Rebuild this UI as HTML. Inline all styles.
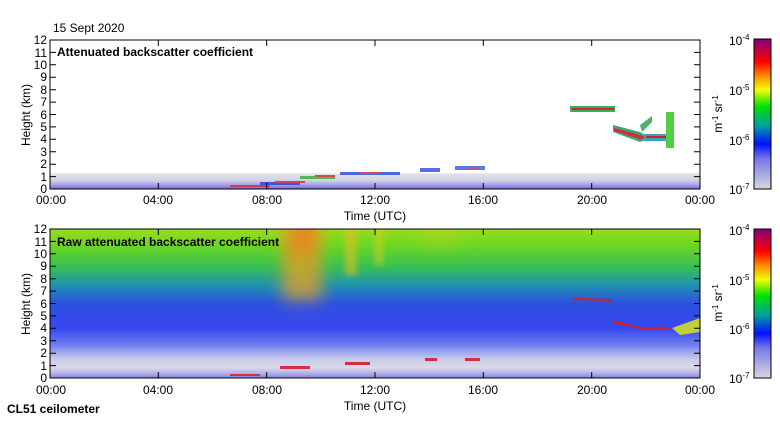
<!DOCTYPE html>
<html><head><meta charset="utf-8"><style>
body{margin:0;background:#fff}
svg text{font-family:"Liberation Sans",sans-serif;font-size:12px;fill:#000}
</style></head><body>
<svg width="780" height="420" xmlns="http://www.w3.org/2000/svg">
<defs>
<linearGradient id="cb" x1="0" y1="1" x2="0" y2="0">
<stop offset="0" stop-color="#d8d8e0"/><stop offset="0.2" stop-color="#7878e8"/><stop offset="0.3" stop-color="#0010ff"/><stop offset="0.42" stop-color="#00a0a0"/><stop offset="0.55" stop-color="#00e000"/><stop offset="0.66" stop-color="#f0ff00"/><stop offset="0.75" stop-color="#ff9000"/><stop offset="0.85" stop-color="#ff0000"/><stop offset="1" stop-color="#800080"/>
</linearGradient>
<linearGradient id="top" x1="0" y1="1" x2="0" y2="0">
<stop offset="0" stop-color="#6a6ae0"/><stop offset="0.03" stop-color="#a8a8e8"/><stop offset="0.06" stop-color="#d4d4e4"/><stop offset="0.1" stop-color="#e0e0ec"/><stop offset="0.11" stop-color="#fff"/>
</linearGradient>
<linearGradient id="bot" x1="0" y1="1" x2="0" y2="0">
<stop offset="0" stop-color="#8080e0"/><stop offset="0.03" stop-color="#b0b0e8"/><stop offset="0.07" stop-color="#dadae8"/><stop offset="0.13" stop-color="#c8c8ec"/><stop offset="0.22" stop-color="#7080f0"/><stop offset="0.33" stop-color="#3848f0"/><stop offset="0.5" stop-color="#2c50e0"/><stop offset="0.62" stop-color="#2090b0"/><stop offset="0.75" stop-color="#38c050"/><stop offset="0.9" stop-color="#70d820"/><stop offset="1" stop-color="#98dc20"/>
</linearGradient>
<filter id="b" x="-50%" y="-50%" width="200%" height="200%"><feGaussianBlur stdDeviation="8"/></filter>
<filter id="b2" x="-50%" y="-50%" width="200%" height="200%"><feGaussianBlur stdDeviation="3"/></filter>
<clipPath id="cp"><rect x="50" y="229" width="650" height="149"/></clipPath>
</defs>
<text x="53" y="32">15 Sept 2020</text>
<!-- top panel -->
<rect x="50" y="40" width="650" height="149" fill="url(#top)"/>
<g>
<rect x="570" y="106" width="45" height="6" fill="#30b060"/><rect x="572" y="108" width="42" height="2" fill="#e02020"/>
<polygon points="613,125 640,132 650,138 640,142 613,132" fill="#40a080"/>
<polygon points="614,128 640,135 648,138 640,139 614,131" fill="#d03030"/>
<polygon points="640,125 652,116 652,122 642,132" fill="#50b070"/>
<rect x="644" y="134" width="28" height="7" fill="#40a0c0"/><rect x="646" y="136" width="24" height="2" fill="#d02020"/>
<rect x="666" y="112" width="8" height="36" fill="#50d040"/>
</g>
<g fill="#d03040" opacity="0.85">
<rect x="230" y="185" width="40" height="2"/><rect x="260" y="182" width="40" height="3" fill="#3040e0"/><rect x="275" y="181" width="30" height="2"/><rect x="300" y="176" width="35" height="3" fill="#40b040"/><rect x="315" y="175" width="20" height="2"/><rect x="340" y="172" width="60" height="3" fill="#3050e0"/><rect x="360" y="172" width="20" height="2"/><rect x="420" y="168" width="20" height="4" fill="#4050e0"/><rect x="455" y="166" width="30" height="4" fill="#4060e0"/><rect x="470" y="167" width="8" height="2"/>
</g>
<rect x="50" y="40" width="650" height="149" fill="none" stroke="#000"/>
<text x="57" y="56" style="font-weight:bold">Attenuated backscatter coefficient</text>
<!-- bottom panel -->
<rect x="50" y="229" width="650" height="149" fill="url(#bot)"/>
<g clip-path="url(#cp)">
<rect x="282" y="215" width="40" height="85" fill="#e8a020" opacity="0.75" filter="url(#b)"/>
<rect x="290" y="215" width="25" height="40" fill="#f07020" opacity="0.6" filter="url(#b)"/>
<rect x="345" y="215" width="12" height="60" fill="#e0c020" opacity="0.6" filter="url(#b2)"/>
<rect x="375" y="215" width="8" height="50" fill="#d0d020" opacity="0.6" filter="url(#b2)"/>
<rect x="420" y="215" width="40" height="30" fill="#c0d020" opacity="0.4" filter="url(#b)"/>
<polygon points="672,328 700,318 700,332 680,335" fill="#d0e020" opacity="0.9"/>
</g>
<polygon points="573,298 612,299 612,301 573,300" fill="#d02020"/>
<polygon points="613,320 640,327 670,328 670,330 640,329 613,323" fill="#d02020"/>
<g fill="#d03040"><rect x="230" y="374" width="30" height="2"/><rect x="280" y="366" width="30" height="3"/><rect x="345" y="362" width="25" height="3"/><rect x="425" y="358" width="12" height="3"/><rect x="465" y="358" width="15" height="3"/></g>
<rect x="50" y="229" width="650" height="149" fill="none" stroke="#000"/>
<text x="57" y="246" style="font-weight:bold" fill="#102010">Raw attenuated backscatter coefficient</text>
<!-- axes ticks -->
<g stroke="#000" stroke-width="1">
<path d="M158.3,40v6M266.7,40v6M375,40v6M483.3,40v6M591.7,40v6M158.3,189v-6M266.7,189v-6M375,189v-6M483.3,189v-6M591.7,189v-6"/>
<path d="M158.3,229v6M266.7,229v6M375,229v6M483.3,229v6M591.7,229v6M158.3,378v-6M266.7,378v-6M375,378v-6M483.3,378v-6M591.7,378v-6"/>
<path d="M50,176.6h6M50,164.2h6M50,151.8h6M50,139.3h6M50,126.9h6M50,114.5h6M50,102.1h6M50,89.7h6M50,77.2h6M50,64.8h6M50,52.4h6M700,176.6h-6M700,164.2h-6M700,151.8h-6M700,139.3h-6M700,126.9h-6M700,114.5h-6M700,102.1h-6M700,89.7h-6M700,77.2h-6M700,64.8h-6M700,52.4h-6"/>
<path d="M50,365.6h6M50,353.2h6M50,340.8h6M50,328.3h6M50,315.9h6M50,303.5h6M50,291.1h6M50,278.7h6M50,266.2h6M50,253.8h6M50,241.4h6M700,365.6h-6M700,353.2h-6M700,340.8h-6M700,328.3h-6M700,315.9h-6M700,303.5h-6M700,291.1h-6M700,278.7h-6M700,266.2h-6M700,253.8h-6M700,241.4h-6"/>
</g>
<g text-anchor="end">
<text x="47" y="193">0</text><text x="47" y="181">1</text><text x="47" y="168">2</text><text x="47" y="156">3</text><text x="47" y="143">4</text><text x="47" y="131">5</text><text x="47" y="119">6</text><text x="47" y="106">7</text><text x="47" y="94">8</text><text x="47" y="81">9</text><text x="47" y="69">10</text><text x="47" y="57">11</text><text x="47" y="44">12</text>
<text x="47" y="382">0</text><text x="47" y="370">1</text><text x="47" y="357">2</text><text x="47" y="345">3</text><text x="47" y="332">4</text><text x="47" y="320">5</text><text x="47" y="308">6</text><text x="47" y="295">7</text><text x="47" y="283">8</text><text x="47" y="270">9</text><text x="47" y="258">10</text><text x="47" y="246">11</text><text x="47" y="233">12</text>
</g>
<g text-anchor="middle">
<text x="51" y="204">00:00</text><text x="158" y="204">04:00</text><text x="267" y="204">08:00</text><text x="375" y="204">12:00</text><text x="483" y="204">16:00</text><text x="592" y="204">20:00</text><text x="700" y="204">00:00</text>
<text x="375" y="220">Time (UTC)</text>
<text x="51" y="394">00:00</text><text x="158" y="394">04:00</text><text x="267" y="394">08:00</text><text x="375" y="394">12:00</text><text x="483" y="394">16:00</text><text x="592" y="394">20:00</text><text x="700" y="394">00:00</text>
<text x="375" y="410">Time (UTC)</text>
<text transform="translate(30,115) rotate(-90)">Height (km)</text>
<text transform="translate(30,304) rotate(-90)">Height (km)</text>
<text transform="translate(722,114) rotate(-90)">m<tspan dy="-4" font-size="8">-1</tspan><tspan dy="4"> sr</tspan><tspan dy="-4" font-size="8">-1</tspan></text>
<text transform="translate(722,303) rotate(-90)">m<tspan dy="-4" font-size="8">-1</tspan><tspan dy="4"> sr</tspan><tspan dy="-4" font-size="8">-1</tspan></text>
</g>
<text x="7" y="413" style="font-weight:bold">CL51 ceilometer</text>
<!-- colorbars -->
<rect x="754" y="39" width="17" height="150" fill="url(#cb)" stroke="#000"/>
<rect x="754" y="229" width="17" height="149" fill="url(#cb)" stroke="#000"/>
<g text-anchor="start">
<text x="729" y="45">10<tspan dy="-5" font-size="8">-4</tspan></text>
<text x="729" y="95">10<tspan dy="-5" font-size="8">-5</tspan></text>
<text x="729" y="145">10<tspan dy="-5" font-size="8">-6</tspan></text>
<text x="729" y="194">10<tspan dy="-5" font-size="8">-7</tspan></text>
<text x="729" y="235">10<tspan dy="-5" font-size="8">-4</tspan></text>
<text x="729" y="285">10<tspan dy="-5" font-size="8">-5</tspan></text>
<text x="729" y="334">10<tspan dy="-5" font-size="8">-6</tspan></text>
<text x="729" y="383">10<tspan dy="-5" font-size="8">-7</tspan></text>
</g>
</svg>
</body></html>
